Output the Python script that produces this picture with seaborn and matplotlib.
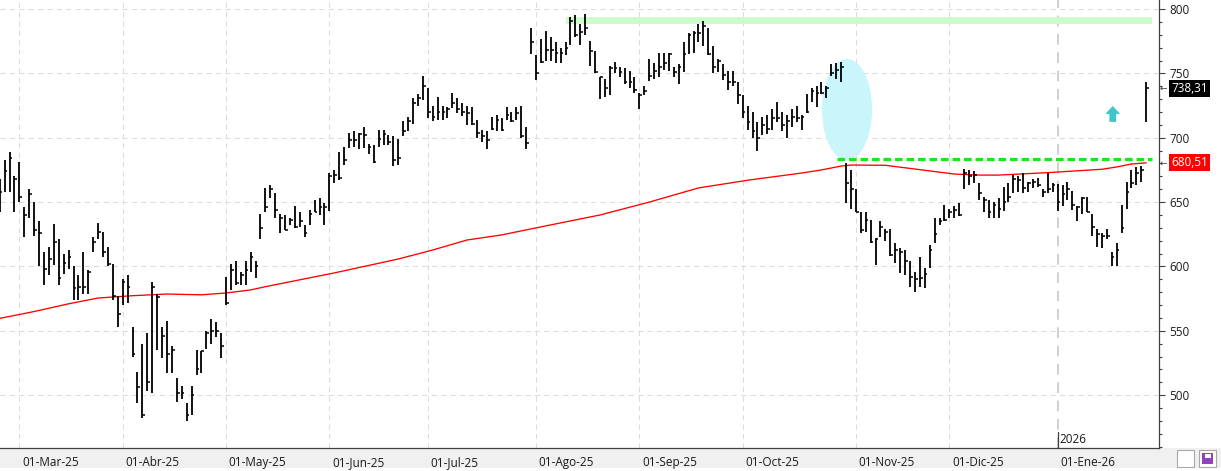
import numpy as np
import pandas as pd
import matplotlib
matplotlib.use("Agg")
import matplotlib.pyplot as plt
import matplotlib.transforms as mtransforms
from matplotlib.patches import Ellipse, Rectangle, Polygon
from matplotlib.ticker import MultipleLocator
import seaborn as sns

# ---- data (daily bars, US trading calendar) ----
holidays = ["2025-04-18", "2025-05-26", "2025-06-19", "2025-07-04", "2025-09-01",
            "2025-11-27", "2025-12-25", "2026-01-01", "2026-01-19"]
dates = pd.bdate_range("2025-02-25", "2026-01-29", freq="C", holidays=holidays)

high = [
    668, 683, 689, 670,
    681, 646, 660, 650, 635, 611, 615, 633, 621, 610, 613, 600, 593, 611, 597, 623, 634, 627, 615, 602, 577,
    590, 593, 553, 518, 540, 548, 588, 579, 553, 558, 538, 513, 507, 494, 507, 535, 534, 550, 559, 557, 548,
    592, 602, 604, 596, 604, 611, 604, 641, 661, 663, 657, 641, 640, 638, 647, 642, 632, 644, 652, 653, 649,
    673, 675, 689, 693, 704, 705, 704, 708, 695, 694, 706, 706, 702, 701, 699, 713, 716, 731, 734, 748,
    739, 725, 732, 725, 724, 735, 731, 727, 725, 724, 714, 706, 705, 716, 718, 715, 724, 720, 724, 725, 708, 785,
    764, 777, 783, 778, 774, 770, 774, 794, 795, 788, 796, 775, 767, 747, 746, 756, 759, 755, 754, 752, 747,
    735, 740, 761, 758, 766, 766, 766, 755, 757, 774, 781, 783, 788, 791, 785, 771, 761, 757, 752, 752, 743,
    733, 725, 720, 712, 716, 718, 722, 728, 720, 718, 722, 725, 718, 734, 739, 740, 743, 740, 757, 758, 759, 680, 675,
    660, 642, 642, 636, 622, 635, 629, 629, 618, 614, 613, 604, 596, 607, 599, 617, 638, 638, 648,
    645, 647, 649, 676, 675, 674, 665, 654, 652, 650, 653, 662, 665, 671, 670, 673, 666, 668, 669, 660, 673, 665,
    664, 663, 666, 659, 647, 654, 654, 641, 629, 626, 629, 611, 618, 648, 666, 675, 677, 678, 743,
]
low = [
    642, 658, 658, 642,
    650, 623, 638, 624, 600, 586, 593, 601, 586, 594, 598, 574, 574, 579, 579, 611, 621, 607, 600, 574, 553,
    570, 572, 530, 494, 482, 503, 502, 535, 529, 517, 517, 495, 497, 480, 485, 516, 517, 536, 540, 545, 529,
    570, 582, 586, 586, 586, 596, 591, 621, 642, 653, 638, 626, 628, 632, 630, 631, 623, 632, 642, 640, 632,
    643, 665, 667, 679, 692, 693, 691, 692, 687, 680, 693, 694, 694, 678, 679, 701, 705, 711, 725, 729,
    715, 713, 714, 714, 715, 723, 719, 717, 710, 710, 700, 697, 691, 706, 705, 705, 714, 712, 714, 700, 691, 765,
    745, 758, 760, 760, 758, 758, 764, 772, 778, 772, 780, 756, 750, 730, 732, 733, 750, 747, 742, 739, 735,
    722, 733, 744, 746, 747, 753, 752, 747, 742, 751, 765, 766, 774, 771, 764, 750, 751, 745, 737, 740, 726,
    715, 706, 700, 690, 702, 703, 706, 712, 705, 700, 708, 712, 706, 719, 728, 724, 734, 731, 748, 746, 743, 649, 645,
    642, 626, 627, 618, 601, 623, 620, 608, 603, 595, 593, 584, 580, 584, 583, 599, 618, 632, 635,
    638, 638, 639, 660, 663, 665, 652, 642, 638, 638, 638, 643, 650, 657, 658, 657, 658, 661, 662, 654, 657, 658,
    643, 647, 652, 644, 635, 641, 642, 624, 615, 614, 621, 600, 600, 626, 645, 661, 663, 666, 712,
]
close = [
    658, 674, 684, 668,
    654, 640, 656, 628, 626, 598, 606, 619, 591, 603, 607, 583, 584, 584, 596, 619, 627, 611, 602, 577, 563,
    588, 584, 532, 506, 485, 510, 584, 576, 546, 532, 535, 502, 502, 485, 500, 520, 534, 548, 550, 550, 538,
    572, 597, 587, 593, 597, 607, 600, 630, 646, 660, 644, 638, 628, 636, 631, 635, 626, 641, 642, 646, 646,
    670, 671, 669, 683, 698, 698, 703, 702, 693, 681, 699, 703, 697, 683, 684, 705, 713, 727, 731, 740,
    720, 716, 720, 720, 722, 727, 722, 720, 719, 711, 704, 701, 698, 707, 714, 706, 718, 713, 719, 701, 696, 774,
    750, 759, 768, 768, 766, 766, 770, 791, 780, 782, 785, 767, 751, 747, 739, 754, 754, 751, 743, 743, 737,
    733, 736, 748, 752, 755, 758, 765, 751, 755, 765, 780, 781, 781, 787, 765, 755, 760, 749, 743, 743, 733,
    720, 712, 705, 700, 710, 707, 715, 715, 710, 713, 716, 715, 716, 720, 736, 735, 735, 739, 750, 753, 755, 665, 660,
    642, 628, 636, 619, 621, 631, 627, 609, 613, 611, 604, 592, 590, 591, 594, 613, 625, 635, 636,
    642, 644, 640, 673, 670, 671, 657, 652, 642, 648, 645, 650, 654, 668, 667, 661, 665, 666, 663, 658, 660, 663,
    650, 656, 660, 648, 646, 653, 642, 631, 625, 624, 624, 607, 613, 630, 658, 665, 673, 675, 738.31,
]

# moving average (red line), sampled at trading-day numbers
ma_day = [0, 7, 14, 20, 27, 34, 41, 46, 51, 54, 68, 81, 88, 95, 102, 109, 122, 132,
          142, 152, 163, 167, 171, 173, 180, 186, 194, 199, 203, 213, 224, 227, 230, 233]
ma_value = [559.7, 565, 571, 575.5, 577.3, 578.6, 578, 579.4, 581.8, 584.3, 595, 605.8, 612.8,
            620.6, 624.5, 630, 640, 650, 661, 667, 672.6, 675, 678, 678.8, 678.6, 675.7, 671.8,
            671, 671, 672.9, 675.5, 677.3, 679.6, 680.51]

month_labels = ["01-Mar-25", "01-Abr-25", "01-May-25", "01-Jun-25", "01-Jul-25", "01-Ago-25",
                "01-Sep-25", "01-Oct-25", "01-Nov-25", "01-Dic-25", "01-Ene-26"]
last_price = 738.31
last_ma = 680.51
resistance_level = 683.5
top_zone = (788.4, 794)

df = pd.DataFrame({"date": dates, "high": high, "low": low, "close": close})
df["day"] = np.arange(len(df))
month_start = df.groupby(df["date"].dt.to_period("M"))["day"].min().iloc[1:].values

sns.set_style("white")
plt.rcParams["font.family"] = ["Open Sans", "DejaVu Sans"]

W, H = 1221, 471
fig = plt.figure(figsize=(W / 100, H / 100), dpi=100)
fig.patch.set_facecolor("white")
fig.add_artist(Rectangle((0, 3 / H), 1, 20 / H, transform=fig.transFigure,
                         fc="#f0f0f0", ec="none", zorder=0))
ax = fig.add_axes([0, 23 / H, 1159 / W, 448 / H])
ax.set_facecolor("white")

# grid
grid_style = dict(color="#dcdcdc", lw=0.75, ls=(0, (5, 4)), zorder=0)
for m in month_start[:-1]:
    ax.axvline(m, **grid_style)
for v in range(500, 801, 50):
    ax.axhline(v, **grid_style)
ax.axvline(month_start[-1], color="#c4c4c4", lw=1.1, ls=(0, (7, 5)), zorder=0)

# annotations
ax.fill_between([115.1, 234.2], top_zone[0], top_zone[1], color="#ccfbcc", lw=0, zorder=1)
ax.add_patch(Ellipse((172.2, 721.9), 10.2, 78.4, fc="#c9f6fb", ec="none", zorder=1))
ax.hlines(resistance_level, 170.2, 234.2, colors="#1ee61e", lw=2.3,
          linestyles=[(0, (2.4, 1.2))], zorder=2)
arrow_x, arrow_y = 226.2, 724.7
ax.add_patch(Polygon([(arrow_x, arrow_y), (arrow_x + 1.5, arrow_y - 6.2),
                      (arrow_x + 0.68, arrow_y - 6.2), (arrow_x + 0.68, arrow_y - 12.4),
                      (arrow_x - 0.68, arrow_y - 12.4), (arrow_x - 0.68, arrow_y - 6.2),
                      (arrow_x - 1.5, arrow_y - 6.2)], closed=True,
                     fc="#3ec6ca", ec="none", zorder=2))

# moving average + price bars
sns.lineplot(x=ma_day, y=ma_value, ax=ax, color="#ff0000", lw=0.95, zorder=2)
ax.vlines(df["day"], df["low"], df["high"], color="black", lw=1.3, zorder=3)
ax.hlines(df["close"], df["day"], df["day"] + 0.55, color="black", lw=1.1, zorder=3)

ax.set_xlim(0.06, 235.6)
ax.set_ylim(459, 807)

# axes styling
for s in ["top", "left"]:
    ax.spines[s].set_visible(False)
for s in ["right", "bottom"]:
    ax.spines[s].set_color("#404040")
    ax.spines[s].set_linewidth(0.9)

ax.yaxis.tick_right()
ax.set_yticks(range(500, 801, 50))
ax.yaxis.set_minor_locator(MultipleLocator(10))
ax.tick_params(axis="y", which="major", direction="out", length=4.5, width=0.8,
               color="#404040", labelsize=8.5, labelcolor="#1a1a1a", pad=3)
ax.tick_params(axis="y", which="minor", direction="out", length=2.3, width=0.8, color="#404040")

ax.set_xticks(month_start)
ax.set_xticklabels(month_labels)
ax.tick_params(axis="x", direction="out", length=5, width=0.8, color="#404040",
               labelsize=8.5, labelcolor="#1a1a1a", pad=0.5)
offset = mtransforms.ScaledTranslation(2 / 72, 0, fig.dpi_scale_trans)
for lab in ax.get_xticklabels():
    lab.set_horizontalalignment("left")
    lab.set_transform(lab.get_transform() + offset)
ax.set_xlabel("")
ax.set_ylabel("")

# year marker
xa = mtransforms.blended_transform_factory(ax.transData, ax.transAxes)
ax.plot([month_start[-1], month_start[-1]], [0, 0.035], transform=xa, color="#404040", lw=0.9,
        clip_on=False)
ax.text(month_start[-1] + 0.3, 0.02, "2026", transform=xa, fontsize=8.5, color="#1a1a1a",
        ha="left", va="center")

# last-value tags on the price scale
ty = mtransforms.blended_transform_factory(fig.transFigure, ax.transData)
for val, bg in [(last_price, "black"), (last_ma, "#ff0000")]:
    fig.text(1171 / W, val, f"{val:.2f}".replace(".", ","), transform=ty, fontsize=8.5,
             color="white", ha="left", va="center",
             bbox=dict(boxstyle="square,pad=0.18", fc=bg, ec="none"))
    fig.text(1160 / W, val, "←", transform=ty, fontsize=6.5, color="#404040",
             ha="left", va="center", family="DejaVu Sans")

# little buttons bottom right
fig.add_artist(Rectangle((1177 / W, 4 / H), 17 / W, 17 / H, transform=fig.transFigure,
                         fc="white", ec="#a8a8a8", lw=0.8))
fig.add_artist(Rectangle((1199 / W, 4 / H), 17 / W, 17 / H, transform=fig.transFigure,
                         fc="white", ec="#a8a8a8", lw=0.8))
fig.add_artist(Rectangle((1202 / W, 7 / H), 11 / W, 11 / H, transform=fig.transFigure,
                         fc="#8e44c0", ec="none"))
fig.add_artist(Rectangle((1204.5 / W, 13 / H), 6 / W, 4 / H, transform=fig.transFigure,
                         fc="white", ec="none"))

fig.savefig("out.png", dpi=100)
